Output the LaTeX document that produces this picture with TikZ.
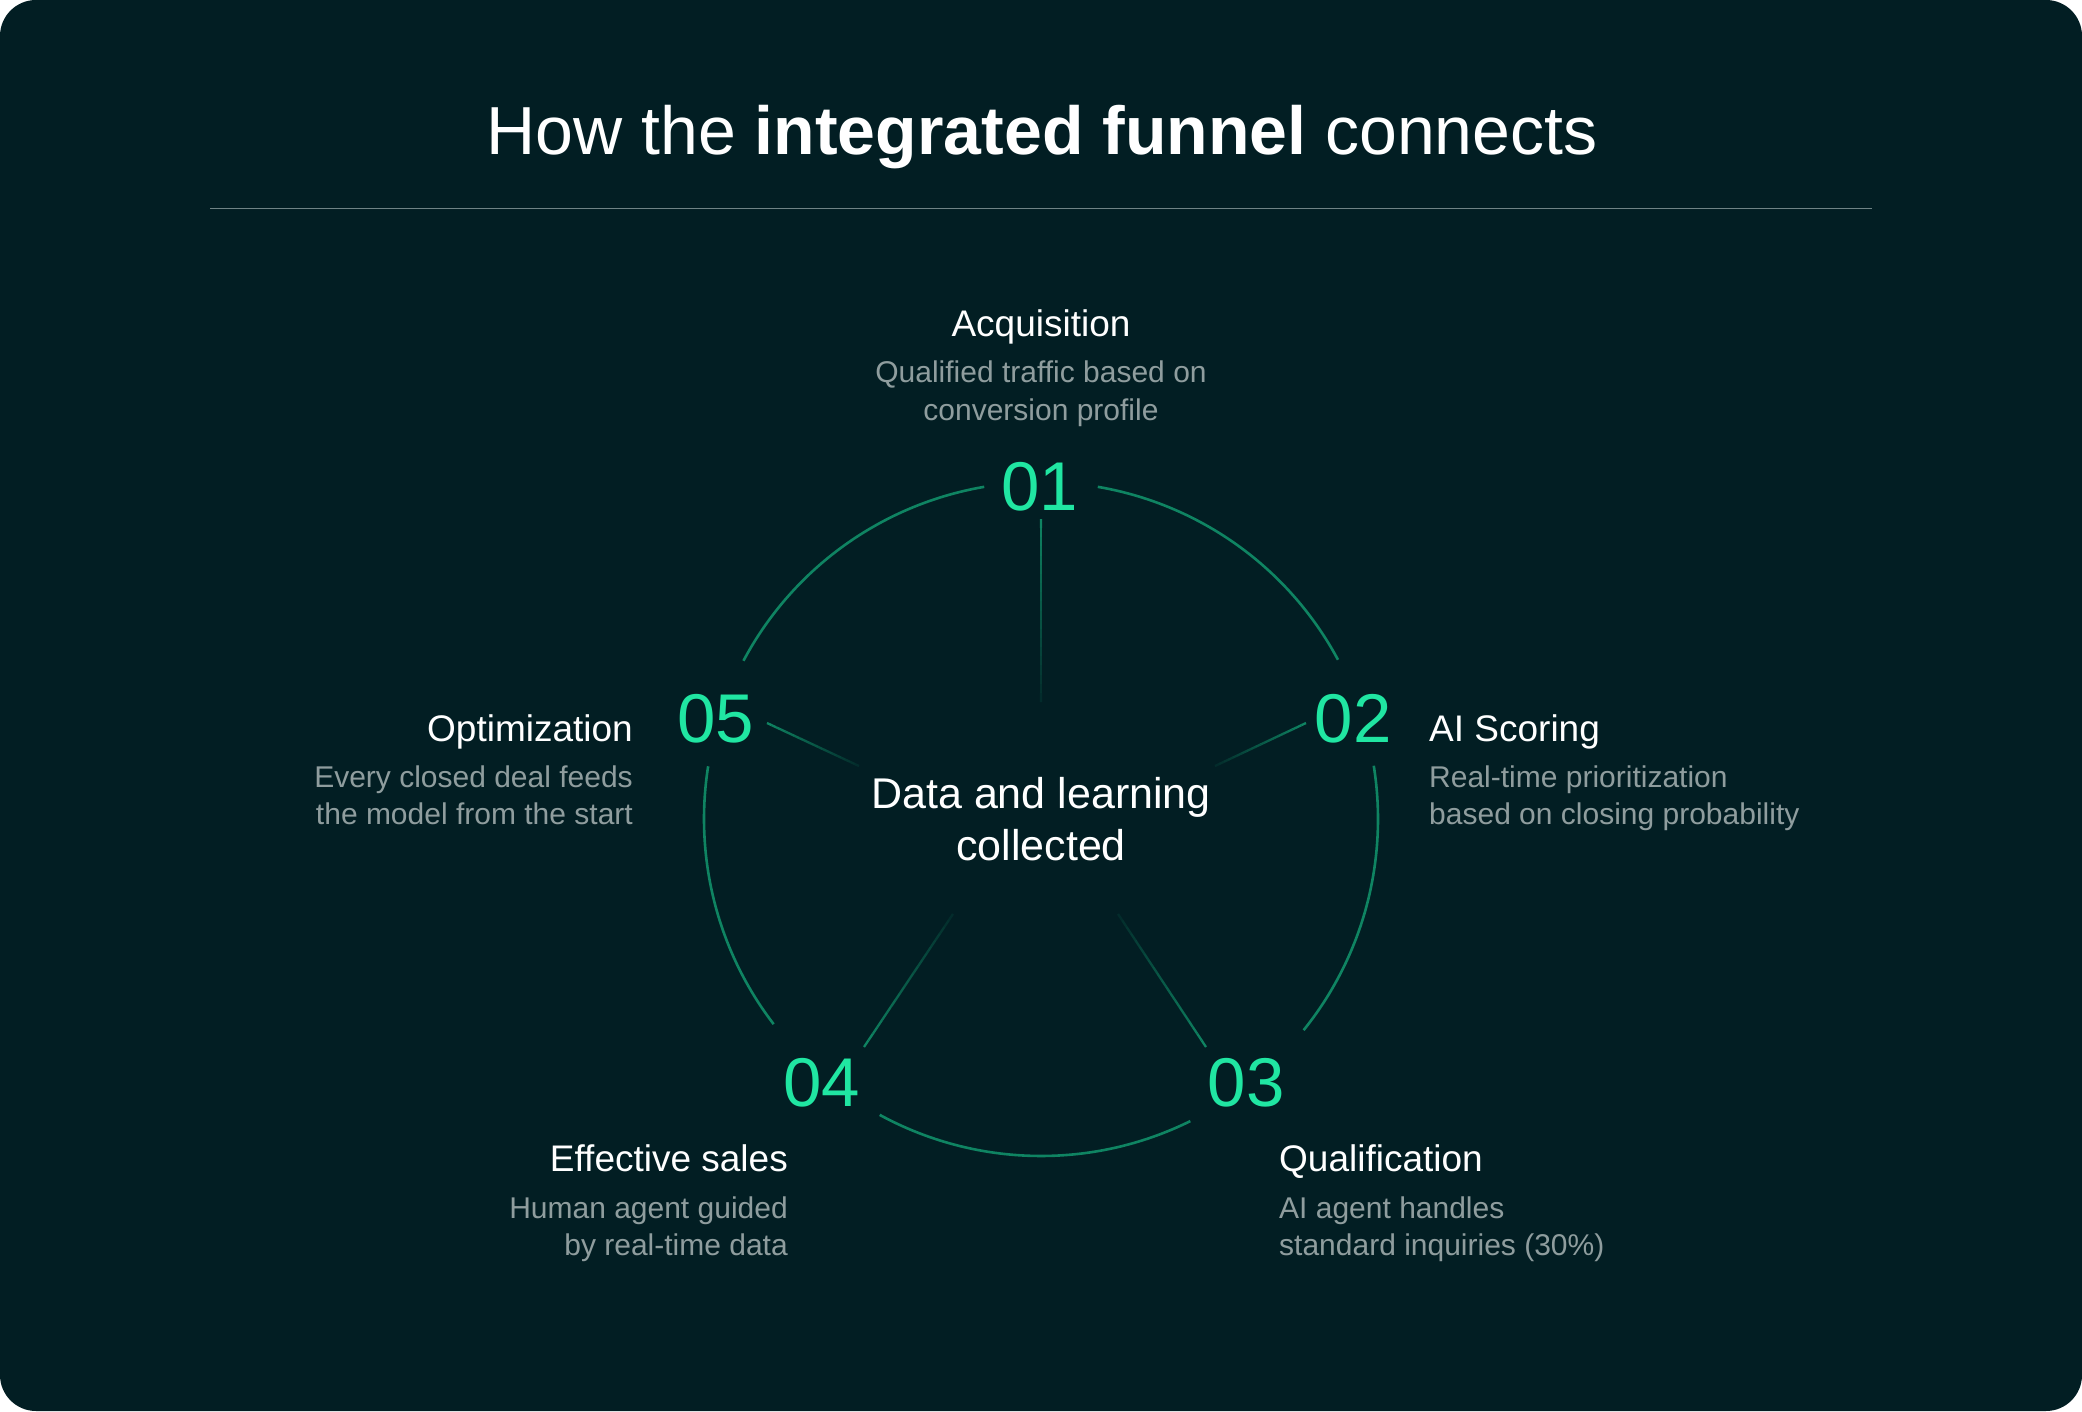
\documentclass[tikz,border=0pt]{standalone}
\usepackage{fontspec}
\setmainfont{Liberation Sans}
\usetikzlibrary{calc}
\definecolor{bgcol}{HTML}{021E23}
\definecolor{ringcol}{HTML}{0F8462}
\definecolor{numcol}{HTML}{20E6A2}
\definecolor{desccol}{HTML}{8F9D9E}
\definecolor{rulecol}{HTML}{6F8385}
\begin{document}
\begin{tikzpicture}[x=1bp,y=-1bp,
  numtxt/.style={text=numcol, inner sep=0, anchor=base, font=\fontsize{69bp}{69bp}\selectfont},
  headtxt/.style={text=white, inner sep=0, font=\fontsize{37bp}{37bp}\selectfont},
  desctxt/.style={text=desccol, inner sep=0, font=\fontsize{30bp}{30bp}\selectfont},
  centertxt/.style={text=white, inner sep=0, anchor=base, font=\fontsize{43bp}{43bp}\selectfont},
  ringline/.style={draw=ringcol, line width=2.6bp},
]
\useasboundingbox (0,0) rectangle (2082,1412);
\fill[white] (0,0) rectangle (2082,1412);
\fill[bgcol, rounded corners=36bp] (0,0) rectangle (2082,1411);

% title
\node[text=white, inner sep=0, anchor=base, font=\fontsize{68bp}{68bp}\selectfont] (title) at (1042,155)
  {How the \textbf{integrated funnel} connects};
\coordinate (ruleL) at (210,208.5);
\coordinate (ruleR) at (1872,208.5);
\draw[rulecol, line width=1.5bp] (ruleL) -- (ruleR);

% ring
\coordinate (c) at (1041,819);
\def\R{337}
\draw[ringline] ($(c)+(-28.2:\R)$) arc[start angle=-28.2, end angle=-80.3, radius=\R];
\draw[ringline] ($(c)+(38.8:\R)$) arc[start angle=38.8, end angle=-9.1, radius=\R];
\draw[ringline] ($(c)+(118.6:\R)$) arc[start angle=118.6, end angle=63.7, radius=\R];
\draw[ringline] ($(c)+(-171:\R)$) arc[start angle=-171, end angle=-217.5, radius=\R];
\draw[ringline] ($(c)+(-99.7:\R)$) arc[start angle=-99.7, end angle=-152, radius=\R];

% numbers
\node[numtxt] (n1) at (1040,510) {01};
\node[numtxt] (n2) at (1353,742) {02};
\node[numtxt] (n3) at (1246,1106) {03};
\node[numtxt] (n4) at (822,1106) {04};
\node[numtxt] (n5) at (716,742) {05};

% center
\node[centertxt] (center1) at (1041,808) {Data and learning};
\node[centertxt] (center2) at (1041,860) {collected};

% spokes
\coordinate (s1o) at (1041,519); \coordinate (s1i) at (1041,702);
\coordinate (s2o) at (1306,723); \coordinate (s2i) at (1215,766);
\coordinate (s3o) at (1206,1047); \coordinate (s3i) at (1118,914);
\coordinate (s4o) at (864,1047); \coordinate (s4i) at (953,914);
\coordinate (s5o) at (767,723); \coordinate (s5i) at (859,766);
\foreach \o/\i in {s1o/s1i, s2o/s2i, s3o/s3i, s4o/s4i, s5o/s5i}{
  \foreach \k in {0,...,19}{
    \pgfmathsetmacro\op{1-0.9*\k/20}
    \pgfmathsetmacro\ta{\k/20}
    \pgfmathsetmacro\tb{(\k+1)/20}
    \draw[draw=ringcol, line width=2.3bp, draw opacity=\op] ($(\o)!\ta!(\i)$) -- ($(\o)!\tb!(\i)$);
  }
}

% labels
\node[headtxt, anchor=base] (h1) at (1041,337) {Acquisition};
\node[desctxt, anchor=base] (d1a) at (1041,383) {Qualified traffic based on};
\node[desctxt, anchor=base] (d1b) at (1041,420) {conversion profile};

\node[headtxt, anchor=base west] (h2) at (1429,741) {AI Scoring};
\node[desctxt, anchor=base west] (d2a) at (1429,787) {Real-time prioritization};
\node[desctxt, anchor=base west] (d2b) at (1429,824) {based on closing probability};

\node[headtxt, anchor=base west] (h3) at (1279,1171) {Qualification};
\node[desctxt, anchor=base west] (d3a) at (1279,1218) {AI agent handles};
\node[desctxt, anchor=base west] (d3b) at (1279,1255) {standard inquiries (30\%)};

\node[headtxt, anchor=base east] (h4) at (788,1171) {Effective sales};
\node[desctxt, anchor=base east] (d4a) at (788,1218) {Human agent guided};
\node[desctxt, anchor=base east] (d4b) at (788,1255) {by real-time data};

\node[headtxt, anchor=base east] (h5) at (633,741) {Optimization};
\node[desctxt, anchor=base east] (d5a) at (633,787) {Every closed deal feeds};
\node[desctxt, anchor=base east] (d5b) at (633,824) {the model from the start};
\end{tikzpicture}
\end{document}
